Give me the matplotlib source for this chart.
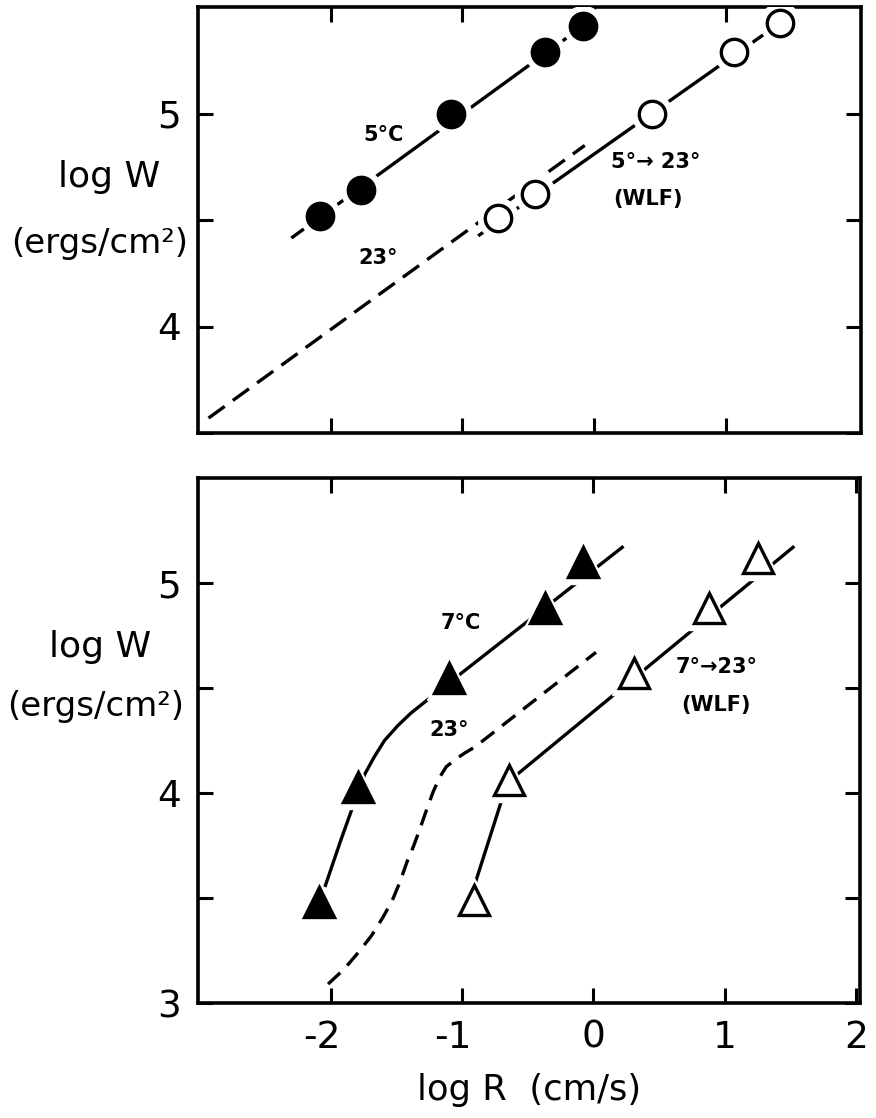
import matplotlib
matplotlib.use('Agg')
import matplotlib.pyplot as plt
from matplotlib.transforms import ScaledTranslation

plt.rcParams['font.family'] = ['DejaVu Sans']

# ---- top panel (5 C) ----
circ5_x = [-2.08, -1.77, -1.09, -0.37, -0.08]
circ5_y = [4.52, 4.64, 5.00, 5.29, 5.41]
wlf5_x = [-0.73, -0.445, 0.44, 1.065, 1.415]
wlf5_y = [4.51, 4.62, 5.00, 5.29, 5.425]
line5_x = [-2.29, -0.04]
line5_y = [4.42, 5.43]
linewlf5_x = [-0.87, 1.415]
linewlf5_y = [4.43, 5.425]
dash23a_x = [-2.93, -0.07]
dash23a_y = [3.57, 4.85]

# ---- bottom panel (7 C) ----
tri7_x = [-2.09, -1.79, -1.10, -0.37, -0.08]
tri7_y = [3.48, 4.03, 4.55, 4.88, 5.10]
wlf7_x = [-0.91, -0.64, 0.31, 0.88, 1.25]
wlf7_y = [3.49, 4.06, 4.57, 4.88, 5.12]
curve7_x = [-2.04, -1.92, -1.80, -1.74, -1.67, -1.59, -1.49, -1.39, -1.28, -1.19, 0.22]
curve7_y = [3.56, 3.78, 3.99, 4.09, 4.17, 4.25, 4.32, 4.38, 4.435, 4.48, 5.17]
curvewlf7_x = [-0.90, -0.655, 1.52]
curvewlf7_y = [3.57, 4.05, 5.17]
dash23b_x = [-2.02, -1.90, -1.79, -1.69, -1.60, -1.53, -1.47, -1.42, -1.37, -1.32,
             -1.27, -1.22, -1.17, -1.12, -1.05, -0.98, -0.90, 0.02]
dash23b_y = [3.09, 3.16, 3.24, 3.32, 3.41, 3.49, 3.58, 3.67, 3.745, 3.83,
             3.92, 4.005, 4.075, 4.125, 4.16, 4.19, 4.22, 4.67]

xticks = [-2, -1, 0, 1, 2]
xticklabels = ['-2', '-1', '0', '1', '2']

W, H = 876, 1118
fig = plt.figure(figsize=(W / 100, H / 100), dpi=100)

def box(l, r, t, b):
    return [l / W, 1 - b / H, (r - l) / W, (b - t) / H]

ax1 = fig.add_axes(box(198, 861, 7, 433))
ax2 = fig.add_axes(box(198, 860, 478, 1003))

LW = 2.4
for ax in (ax1, ax2):
    ax.set_xlim(-3.01, 2.03)
    for s in ax.spines.values():
        s.set_linewidth(2.6)
    ax.tick_params(direction='in', length=11, width=2.2, top=True, right=True,
                   labelsize=27, pad=12)

ax1.set_ylim(3.5, 5.5)
ax1.set_xticks(xticks[:-1])
ax1.set_xticklabels([])
ax1.set_yticks([3.5, 4, 4.5, 5])
ax1.set_yticklabels(['', '4', '', '5'])

ax2.set_ylim(3, 5.5)
ax2.set_xticks(xticks)
ax2.set_xticklabels(xticklabels)
ax2.set_yticks([3, 3.5, 4, 4.5, 5])
ax2.set_yticklabels(['3', '', '4', '', '5'])
for lab in ax2.get_xticklabels():
    if lab.get_text().startswith('-'):
        lab.set_transform(lab.get_transform() + ScaledTranslation(-0.09, 0, fig.dpi_scale_trans))


def markers(ax, x, y, marker, ms, filled):
    ax.plot(x, y, ls='none', marker=marker, ms=ms + 10, mfc='white', mec='white', zorder=3)
    ax.plot(x, y, ls='none', marker=marker, ms=ms, mfc='black' if filled else 'white',
            mec='black', mew=2.4, zorder=4)


note = dict(fontsize=15, fontweight='bold', ha='center', va='center')

# top panel
ax1.plot(line5_x, line5_y, color='black', lw=LW, zorder=2)
ax1.plot(linewlf5_x, linewlf5_y, color='black', lw=LW, zorder=2)
ax1.plot(dash23a_x, dash23a_y, color='black', lw=LW, dashes=(6, 3), zorder=2)
markers(ax1, circ5_x, circ5_y, 'o', 19, True)
markers(ax1, wlf5_x, wlf5_y, 'o', 19, False)
ax1.text(-1.60, 4.90, '5°C', **note)
ax1.text(-1.64, 4.32, '23°', **note)
ax1.text(0.47, 4.77, '5°→ 23°', **note)
ax1.text(0.41, 4.60, '(WLF)', **note)

# bottom panel
ax2.plot(curve7_x, curve7_y, color='black', lw=LW, zorder=2)
ax2.plot(curvewlf7_x, curvewlf7_y, color='black', lw=LW, zorder=2)
ax2.plot(dash23b_x, dash23b_y, color='black', lw=LW, dashes=(5, 3), zorder=2)
markers(ax2, tri7_x, tri7_y, '^', 21, True)
markers(ax2, wlf7_x, wlf7_y, '^', 21, False)
ax2.text(-1.01, 4.81, '7°C', **note)
ax2.text(-1.10, 4.30, '23°', **note)
ax2.text(0.94, 4.60, '7°→23°', **note)
ax2.text(0.93, 4.42, '(WLF)', **note)

# axis labels
ax1.text(-0.134, 0.601, 'log W', transform=ax1.transAxes, fontsize=26, ha='center', va='center')
ax1.text(-0.148, 0.446, '(ergs/cm²)', transform=ax1.transAxes, fontsize=24.5, ha='center', va='center')
ax2.text(-0.148, 0.678, 'log W', transform=ax2.transAxes, fontsize=26, ha='center', va='center')
ax2.text(-0.155, 0.564, '(ergs/cm²)', transform=ax2.transAxes, fontsize=24.5, ha='center', va='center')
ax2.text(0.5, -0.166, 'log R  (cm/s)', transform=ax2.transAxes, fontsize=25.5, ha='center', va='center')

fig.savefig('out.png', dpi=100)
